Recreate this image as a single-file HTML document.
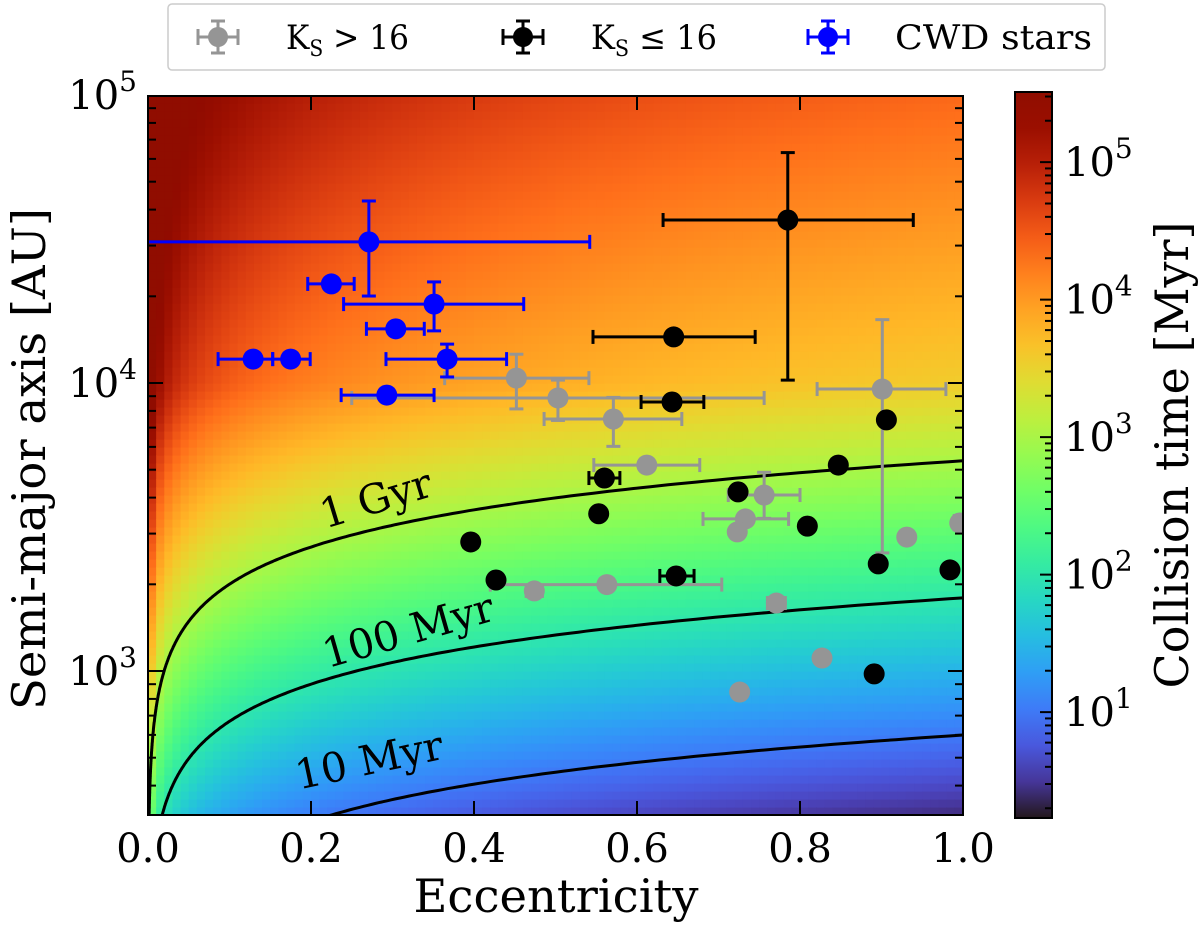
<!DOCTYPE html>
<html><head><meta charset="utf-8"><style>
html,body{margin:0;background:#fff;width:1200px;height:933px;overflow:hidden}
svg{display:block;overflow:hidden;position:absolute;left:0;top:0}
svg text{font-family:"DejaVu Serif","Liberation Serif",serif}
</style></head><body>
<svg id="chart" width="1200" height="933">
<defs><clipPath id="clip"><rect x="148" y="96" width="815" height="719"/></clipPath>
<linearGradient id="cbg" x1="0" y1="1" x2="0" y2="0"></linearGradient></defs>
<g id="heat" clip-path="url(#clip)"></g>
<g id="contours" clip-path="url(#clip)"></g>
<g id="pts" clip-path="url(#clip)"></g>
<g id="axes"></g>
</svg>
<script>
// data arrays
const grayE=[0.452,0.503,0.571,0.901,0.612,0.756,0.733,0.723,0.996,0.931,0.563,0.474,0.771,0.827,0.726];
const grayLogA=[4.017,3.948,3.875,3.979,3.715,3.611,3.528,3.483,3.514,3.465,3.30,3.278,3.236,3.045,2.927];
const grayELo=[0.364,0.250,0.486,0.821,0.547,0.712,0.681,null,0.990,null,0.420,0.464,0.760,null,null];
const grayEHi=[0.541,0.756,0.655,0.979,0.677,0.800,0.786,null,1.0,null,0.704,0.484,0.782,null,null];
const grayLogALo=[3.91,3.87,3.78,3.41,null,3.53,null,null,3.49,null,null,null,null,null,null];
const grayLogAHi=[4.10,4.01,3.95,4.22,null,3.69,null,null,3.54,null,null,null,null,null,null];
const blackE=[0.785,0.645,0.643,0.560,0.906,0.847,0.724,0.553,0.396,0.809,0.427,0.648,0.896,0.984,0.891];
const blackLogA=[4.566,4.16,3.934,3.67,3.872,3.715,3.622,3.546,3.448,3.503,3.316,3.33,3.372,3.351,2.99];
const blackELo=[0.632,0.546,0.605,0.541,null,null,null,null,0.388,null,null,0.628,null,null,null];
const blackEHi=[0.939,0.745,0.682,0.579,null,null,null,null,0.404,null,null,0.670,null,null,null];
const blackLogALo=[4.01,4.14,null,null,null,null,null,null,null,null,null,null,null,null,null];
const blackLogAHi=[4.80,4.18,null,null,null,null,null,null,null,null,null,null,null,null,null];
const cwdE=[0.271,0.225,0.351,0.304,0.129,0.175,0.367,0.293];
const cwdLogA=[4.49,4.344,4.274,4.188,4.083,4.083,4.083,3.958];
const cwdELo=[-0.1,0.196,0.240,0.268,0.086,0.153,0.292,0.237];
const cwdEHi=[0.542,0.253,0.461,0.339,0.153,0.199,0.440,0.351];
const cwdLogALo=[4.302,null,4.181,null,null,null,4.021,null];
const cwdLogAHi=[4.632,null,4.351,null,null,null,4.135,null];
const xTicks=[0,0.2,0.4,0.6,0.8,1.0];
const xTickLabels=["0.0","0.2","0.4","0.6","0.8","1.0"];
const yTickExp=[3,4,5];
const cbTickExp=[1,2,3,4,5];
const contourLogT=[1,2,3];
const contourLabels=["10 Myr","100 Myr","1 Gyr"];
const cbMin=0.23, cbMax=5.51;

const NS="http://www.w3.org/2000/svg";
const X=e=>148+815*e;
const Y=la=>383-288*(la-4);
const CBY=lt=>818-(lt-cbMin)/(cbMax-cbMin)*726;
const EK=0.9;
function mk(tag,at,parent){const el=document.createElementNS(NS,tag);for(const k in at)el.setAttribute(k,at[k]);parent.appendChild(el);return el;}
function turbo(x){x=Math.max(0,Math.min(1,x));
 const r=0.13572138+x*(4.61539260+x*(-42.66032258+x*(132.13108234+x*(-152.94239396+x*59.28637943))));
 const g=0.09140261+x*(2.19418839+x*(4.84296658+x*(-14.18503333+x*(4.27729857+x*2.82956604))));
 const b=0.10667330+x*(12.64194608+x*(-60.58204836+x*(110.36276771+x*(-89.90310912+x*27.34824973))));
 const c=v=>Math.round(255*Math.max(0,Math.min(1,v)));return `rgb(${c(r)},${c(g)},${c(b)})`;}
function gA(la){return la<=4?3+2.1*(la-3.73):3.567+0.8*(la-4);}
function logT(e,la){return gA(la)-EK*Math.log10(e);}
const heat=document.getElementById('heat');
const NC=100,NR=90;
for(let i=0;i<NC;i++){for(let j=0;j<NR;j++){
 const e=(i+0.5)/NC, la0=2.5+2.5*j/NR, la1=2.5+2.5*(j+1)/NR, la=(la0+la1)/2;
 const r=mk('rect',{x:X(i/NC),y:Y(la1),width:815/NC+0.6,height:Y(la0)-Y(la1)+0.6,fill:turbo((logT(e,la)-cbMin)/(cbMax-cbMin))},heat);
 
 
}}
const cg=document.getElementById('contours');
contourLogT.forEach((lt,k)=>{let d='';
 for(let s=0;s<=400;s++){const e=Math.pow(10,-3+3*s/400);const la=3.73+(lt-3+EK*Math.log10(e))/2.1;d+=(s?'L':'M')+X(e).toFixed(1)+','+Y(la).toFixed(1);}
 const p=mk('path',{d:d,fill:'none',stroke:'#000','stroke-width':3},cg);
 
 
});
const lblPos=[[372,774,-12],[412,644,-16],[380,512,-17]];
contourLabels.forEach((t,k)=>{const [x,y,r]=lblPos[k];
 const tx=mk('text',{x:x,y:y,'font-size':41,'text-anchor':'middle',transform:`rotate(${r} ${x} ${y})`},cg);tx.textContent=t;
 
 
});
const pg=document.getElementById('pts');
function series(E,LA,EL,EH,AL,AH,col,name){
 for(let i=0;i<E.length;i++){const cx=X(E[i]),cy=Y(LA[i]);
  const g=mk('g',{},pg);
  
  
  if(EL[i]!==null){const a=X(EL[i]),b=X(EH[i]);
   mk('line',{x1:a,y1:cy,x2:b,y2:cy,stroke:col,'stroke-width':3},g);
   mk('line',{x1:a,y1:cy-7,x2:a,y2:cy+7,stroke:col,'stroke-width':3},g);
   mk('line',{x1:b,y1:cy-7,x2:b,y2:cy+7,stroke:col,'stroke-width':3},g);}
  if(AL[i]!==null){const a=Y(AL[i]),b=Y(AH[i]);
   mk('line',{x1:cx,y1:a,x2:cx,y2:b,stroke:col,'stroke-width':3},g);
   mk('line',{x1:cx-7,y1:a,x2:cx+7,y2:a,stroke:col,'stroke-width':3},g);
   mk('line',{x1:cx-7,y1:b,x2:cx+7,y2:b,stroke:col,'stroke-width':3},g);}
  mk('circle',{cx:cx,cy:cy,r:10.5,fill:col},g);
 }}
series(grayE,grayLogA,grayELo,grayEHi,grayLogALo,grayLogAHi,'#959595','gray');
series(blackE,blackLogA,blackELo,blackEHi,blackLogALo,blackLogAHi,'#000','black');
series(cwdE,cwdLogA,cwdELo,cwdEHi,cwdLogALo,cwdLogAHi,'#0000ff','cwd');
const ax=document.getElementById('axes');
mk('rect',{x:148,y:96,width:815,height:719,fill:'none',stroke:'#000','stroke-width':2},ax);
xTicks.forEach((v,i)=>{const x=X(v);
 mk('line',{x1:x,y1:815,x2:x,y2:801,stroke:'#000','stroke-width':2},ax);
 mk('line',{x1:x,y1:96,x2:x,y2:110,stroke:'#000','stroke-width':2},ax);
 const t=mk('text',{x:x,y:862,'font-size':40,'text-anchor':'middle'},ax);t.textContent=xTickLabels[i];
 
 
});
for(let d=2;d<5;d++)for(let m=1;m<10;m++){const la=d+Math.log10(m);if(la<2.5||la>5)continue;const y=Y(la),L=m===1?15:8;
 mk('line',{x1:148,y1:y,x2:148+L,y2:y,stroke:'#000','stroke-width':2},ax);mk('line',{x1:963,y1:y,x2:963-L,y2:y,stroke:'#000','stroke-width':2},ax);}
yTickExp.forEach(p=>{const t=mk('text',{x:137,y:Y(p)+14,'font-size':40,'text-anchor':'end'},ax);
 t.innerHTML='10<tspan dy="-18" font-size="28">'+p+'</tspan>';
 
 });
const xt=mk('text',{x:556,y:912,'font-size':46,'text-anchor':'middle',textLength:285,lengthAdjust:'spacingAndGlyphs'},ax);xt.textContent='Eccentricity';


const yt=mk('text',{x:0,y:0,'font-size':46,'text-anchor':'middle',textLength:502,lengthAdjust:'spacingAndGlyphs',transform:'translate(45,459) rotate(-90)'},ax);yt.textContent='Semi-major axis [AU]';


// colorbar
const grad=document.getElementById('cbg');
for(let s=0;s<=20;s++)mk('stop',{offset:s/20,'stop-color':turbo(s/20)},grad);
const cb=mk('rect',{x:1015,y:92,width:37,height:726,fill:'url(#cbg)',stroke:'#000','stroke-width':2},ax);


for(let d=0;d<6;d++)for(let m=1;m<10;m++){const lt=d+Math.log10(m);if(lt<cbMin||lt>cbMax)continue;const y=CBY(lt),L=m===1?12:7;
 mk('line',{x1:1052,y1:y,x2:1052-L,y2:y,stroke:'#000','stroke-width':2},ax);}
cbTickExp.forEach(p=>{const t=mk('text',{x:1064,y:CBY(p)+14,'font-size':40},ax);
 t.innerHTML='10<tspan dy="-18" font-size="28">'+p+'</tspan>';
 
 });
const ct=mk('text',{x:0,y:0,'font-size':46,'text-anchor':'middle',transform:'translate(1188,455) rotate(-90)'},ax);ct.textContent='Collision time [Myr]';


// legend
const lg=mk('g',{},ax);


mk('rect',{x:168,y:4,width:937,height:66,rx:4,fill:'#fff',stroke:'#ccc','stroke-width':1.5},lg);
const legItems=[[218,'#959595','K<tspan font-size="22" dy="7">S</tspan><tspan dy="-7"> &gt; 16</tspan>',286,123],[523,'#000','K<tspan font-size="22" dy="7">S</tspan><tspan dy="-7"> ≤ 16</tspan>',591,126],[828,'#0000ff','CWD stars',895,197]];
legItems.forEach(([x,c,lab,tx,tl])=>{const g=mk('g',{},lg);
 
 
 mk('line',{x1:x-20,y1:37,x2:x+20,y2:37,stroke:c,'stroke-width':3},g);
 mk('line',{x1:x-20,y1:29,x2:x-20,y2:45,stroke:c,'stroke-width':3},g);
 mk('line',{x1:x+20,y1:29,x2:x+20,y2:45,stroke:c,'stroke-width':3},g);
 mk('line',{x1:x,y1:21,x2:x,y2:53,stroke:c,'stroke-width':3},g);
 mk('line',{x1:x-7,y1:21,x2:x+7,y2:21,stroke:c,'stroke-width':3},g);
 mk('line',{x1:x-7,y1:53,x2:x+7,y2:53,stroke:c,'stroke-width':3},g);
 mk('circle',{cx:x,cy:37,r:10,fill:c},g);
 const t=mk('text',{x:tx,y:49,'font-size':34,textLength:tl,lengthAdjust:'spacingAndGlyphs'},g);t.innerHTML=lab;});
</script>
</body></html>
